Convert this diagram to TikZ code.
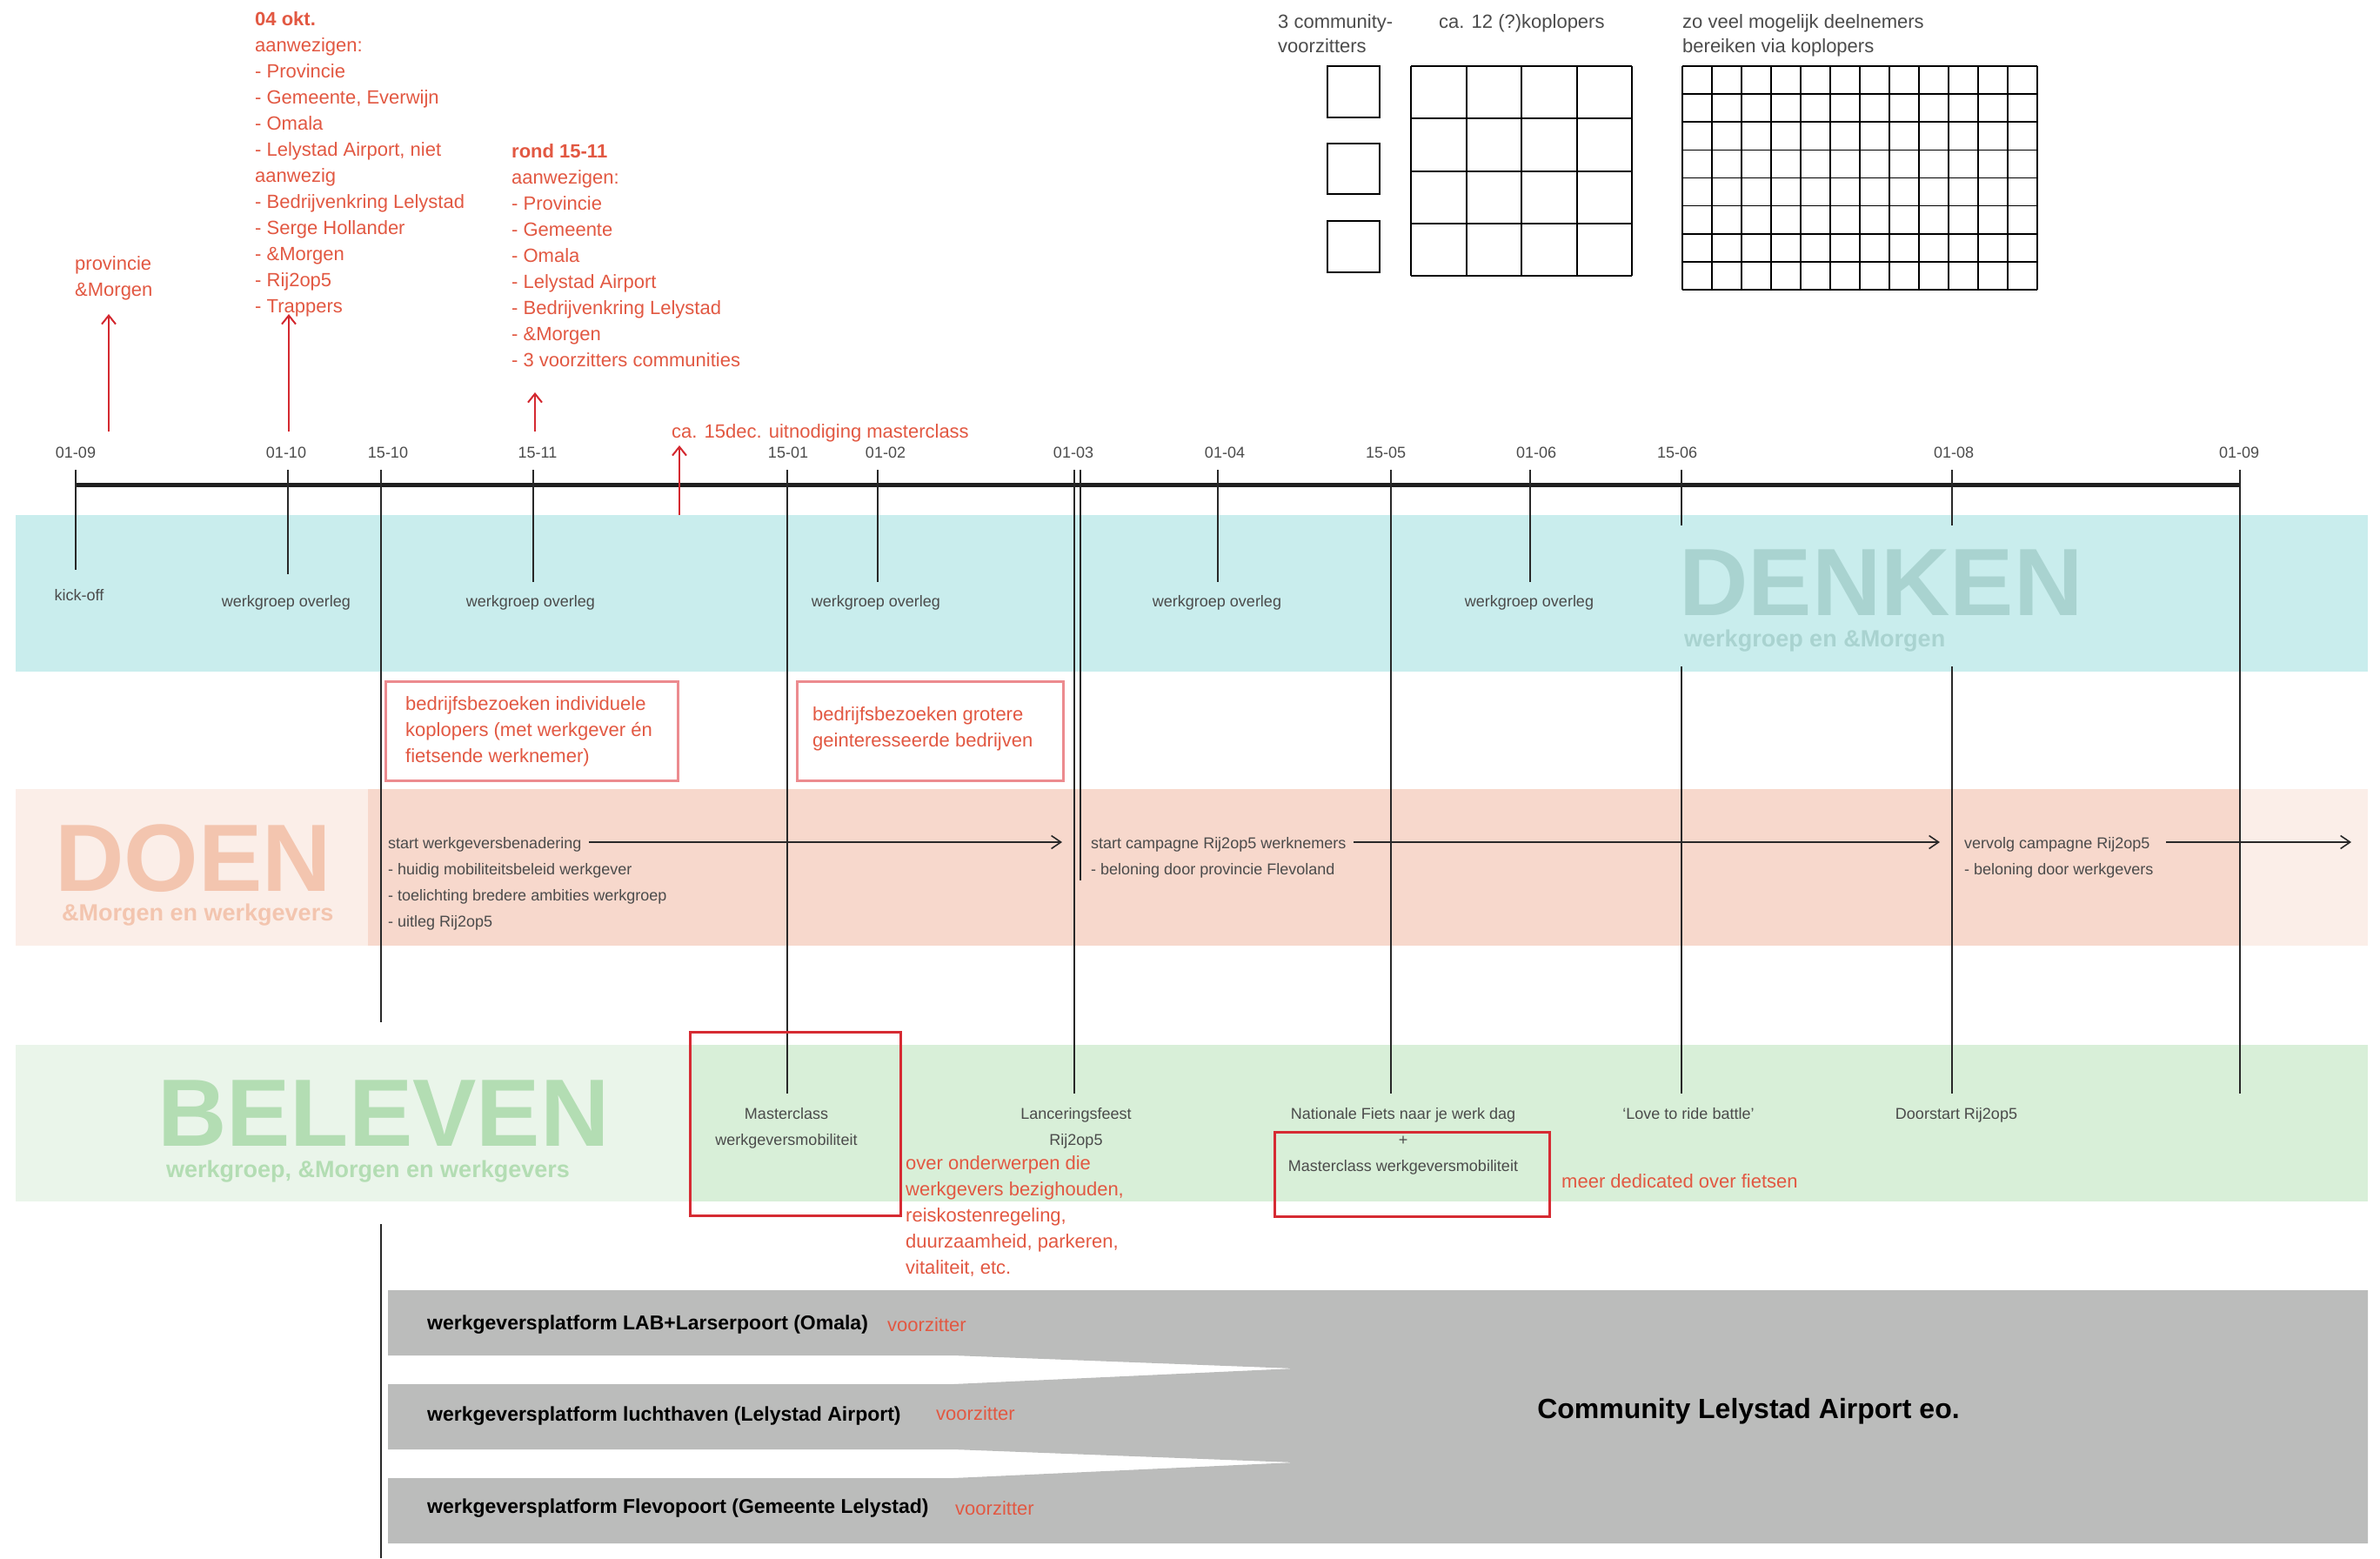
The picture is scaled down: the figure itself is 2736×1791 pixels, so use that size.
\documentclass[tikz,border=0pt]{standalone}
\usepackage{fontspec}
\setmainfont{Liberation Sans}
\usetikzlibrary{arrows.meta}
\definecolor{redtxt}{RGB}{226,88,66}
\definecolor{redarr}{RGB}{212,42,49}
\definecolor{pinkbox}{RGB}{236,139,143}
\definecolor{mcred}{RGB}{214,43,51}
\definecolor{graytxt}{RGB}{75,75,75}
\definecolor{tickcol}{RGB}{40,40,40}
\definecolor{denkenbg}{RGB}{201,237,237}
\definecolor{denkentxt}{RGB}{169,211,208}
\definecolor{doenlight}{RGB}{251,238,232}
\definecolor{doendark}{RGB}{247,216,204}
\definecolor{doentxt}{RGB}{243,197,175}
\definecolor{belevenlight}{RGB}{234,245,234}
\definecolor{belevendark}{RGB}{216,239,216}
\definecolor{beleventxt}{RGB}{179,221,179}
\definecolor{platgray}{RGB}{187,188,187}
\tikzset{
  gt/.style={font=\fontsize{18}{30}\selectfont, text=graytxt, inner sep=0pt},
  gtl/.style={font=\fontsize{22}{28}\selectfont, text=graytxt, inner sep=0pt, align=left},
  rt/.style={font=\fontsize{22}{30}\selectfont, text=redtxt, inner sep=0pt, align=left},
  pt/.style={font=\fontsize{23}{30}\selectfont\bfseries, text=black, inner sep=0pt},
  bigtxt/.style={font=\fontsize{110}{110}\selectfont\bfseries, inner sep=0pt},
  subtxt/.style={font=\fontsize{27}{30}\selectfont\bfseries, inner sep=0pt},
  tickline/.style={line width=2pt, draw=tickcol},
  redarrow/.style={line width=2pt, draw=redarr, -{Straight Barb[length=10pt,width=16pt,line width=2pt]}},
  doenarrow/.style={line width=1.6pt, draw=tickcol, -{Straight Barb[length=11pt,width=15pt,line width=1.6pt]}},
  pinkframe/.style={draw=pinkbox, line width=2.5pt, inner sep=0pt, anchor=north west},
  mcframe/.style={draw=mcred, line width=3pt, inner sep=0pt, anchor=north west},
  gridline/.style={line width=2pt, draw=black}
}
\begin{document}
\begin{tikzpicture}[x=1pt,y=-1pt]
\useasboundingbox[fill=white] (0,0) rectangle (2736,1791);

% ---------- bands ----------
\fill[denkenbg] (18,592) rectangle (2722,772);
\fill[doenlight] (18,907) rectangle (2722,1087);
\fill[doendark] (423,907) rectangle (2575,1087);
\fill[belevenlight] (18,1201) rectangle (792,1381);
\fill[belevendark] (792,1201) rectangle (2722,1381);

% ---------- platforms ----------
\fill[platgray] (446,1483) -- (2722,1483) -- (2722,1774) -- (446,1774) -- (446,1699)
  -- (1096,1699) -- (1488,1681) -- (1096,1666) -- (446,1666) -- (446,1591)
  -- (1096,1591) -- (1488,1573) -- (1096,1558) -- (446,1558) -- cycle;

% ---------- big labels ----------
\node[bigtxt, text=denkentxt, anchor=base west] (denken) at (1930,707) {DENKEN};
\node[subtxt, text=denkentxt, anchor=base west] (denkensub) at (1936,743) {werkgroep en \&Morgen};
\node[bigtxt, text=doentxt, anchor=base west] (doen) at (63,1024) {DOEN};
\node[subtxt, text=doentxt, anchor=base west] (doensub) at (71,1058) {\&Morgen en werkgevers};
\node[bigtxt, text=beleventxt, anchor=base west] (beleven) at (181,1317) {BELEVEN};
\node[subtxt, text=beleventxt, anchor=base west] (belevensub) at (191,1353) {werkgroep, \&Morgen en werkgevers};

% ---------- timeline ----------
\coordinate (tlstart) at (87,557);
\coordinate (tlend) at (2575,557);
\draw[line width=5pt, draw=black!88] (tlstart) -- (tlend);

\foreach \n/\x/\yb in {ta/87/655, tb/331/660, tc/437.5/1175, td/612.5/669, te/904.5/1257,
  tf/1009/669, tg/1235/1257, th/1242/1012, ti/1400/669, tj/1598.5/1257, tk/1759/669,
  tl/1933/604, tm/2244/604, tn/2575/1257}{
  \coordinate (\n top) at (\x,540);
  \coordinate (\n bot) at (\x,\yb);
  \draw[tickline] (\n top) -- (\n bot);
}
\coordinate (tc2top) at (437.5,1407); \coordinate (tc2bot) at (437.5,1791);
\draw[tickline] (tc2top) -- (tc2bot);
\coordinate (tl2top) at (1933,766); \coordinate (tl2bot) at (1933,1257);
\draw[tickline] (tl2top) -- (tl2bot);
\coordinate (tm2top) at (2244,766); \coordinate (tm2bot) at (2244,1257);
\draw[tickline] (tm2top) -- (tm2bot);

% date labels
\foreach \n/\x/\t in {da/87/01-09, db/329/01-10, dc/446/15-10, dd/618/15-11, de/906/15-01,
  df/1018/01-02, dg/1234/01-03, dh/1408/01-04, di/1593/15-05, dj/1766/01-06,
  dk/1928/15-06, dl/2246/01-08, dm/2574/01-09}{
  \node[gt, anchor=base] (\n) at (\x,526) {\t};
}

% ---------- red arrows and annotations ----------
\coordinate (ra1s) at (125,496); \coordinate (ra1e) at (125,361);
\coordinate (ra2s) at (332,496); \coordinate (ra2e) at (332,361);
\coordinate (ra3s) at (615,496); \coordinate (ra3e) at (615,451);
\coordinate (ra4s) at (781,592); \coordinate (ra4e) at (781,512);
\draw[redarrow] (ra1s) -- (ra1e);
\draw[redarrow] (ra2s) -- (ra2e);
\draw[redarrow] (ra3s) -- (ra3e);
\draw[redarrow] (ra4s) -- (ra4e);

\node[rt, anchor=north west] (prov) at (86,289) {\strut provincie\\\&Morgen};
\node[rt, anchor=north west] (okt) at (293,8) {\strut\textbf{04 okt.}\\aanwezigen:\\- Provincie\\- Gemeente, Everwijn\\- Omala\\- Lelystad Airport, niet\\aanwezig\\- Bedrijvenkring Lelystad\\- Serge Hollander\\- \&Morgen\\- Rij2op5\\- Trappers};
\node[rt, anchor=north west] (rond) at (588,160) {\strut\textbf{rond 15-11}\\aanwezigen:\\- Provincie\\- Gemeente\\- Omala\\- Lelystad Airport\\- Bedrijvenkring Lelystad\\- \&Morgen\\- 3 voorzitters communities};
\node[rt, anchor=base west] (uitn) at (772,503) {ca. 15dec. uitnodiging masterclass};

% ---------- top right grids ----------
\node[gtl, anchor=north west] (lab3) at (1469,12.4) {\strut 3 community-\\voorzitters};
\node[gtl, anchor=base west] (lab12) at (1654,32) {ca. 12 (?)koplopers};
\node[gtl, anchor=north west] (labzo) at (1934,12.4) {\strut zo veel mogelijk deelnemers\\bereiken via koplopers};

\draw[gridline] (1526,76) rectangle (1586,135);
\draw[gridline] (1526,165) rectangle (1586,223);
\draw[gridline] (1526,254) rectangle (1586,313);

\foreach \i in {0,...,4}{
  \draw[gridline] ({1622+63.5*\i},76) -- ({1622+63.5*\i},317);
  \draw[gridline] (1622,{76+60.25*\i}) -- (1876,{76+60.25*\i});
}
\foreach \i in {0,...,12}{
  \draw[line width=1.6pt] ({1934+34*\i},76) -- ({1934+34*\i},333);
}
\foreach \i in {0,...,8}{
  \draw[line width=1.6pt] (1934,{76+32.125*\i}) -- (2342,{76+32.125*\i});
}

% ---------- DENKEN labels ----------
\node[gt, anchor=base] (kick) at (91,690) {kick-off};
\node[gt, anchor=base] (wo1) at (329,697) {werkgroep overleg};
\node[gt, anchor=base] (wo2) at (610,697) {werkgroep overleg};
\node[gt, anchor=base] (wo3) at (1007,697) {werkgroep overleg};
\node[gt, anchor=base] (wo4) at (1399,697) {werkgroep overleg};
\node[gt, anchor=base] (wo5) at (1758,697) {werkgroep overleg};

% ---------- bedrijfsbezoeken boxes ----------
\node[pinkframe, minimum width=336pt, minimum height=114pt] (bz1) at (442,782) {};
\node[rt, anchor=north west] (bz1t) at (466,795) {\strut bedrijfsbezoeken individuele\\koplopers (met werkgever én\\fietsende werknemer)};
\node[pinkframe, minimum width=306pt, minimum height=114pt] (bz2) at (915,782) {};
\node[rt, anchor=north west] (bz2t) at (934,807) {\strut bedrijfsbezoeken grotere\\geinteresseerde bedrijven};

% ---------- DOEN texts ----------
\node[gt, anchor=north west, align=left] (doen1) at (446,954) {\strut start werkgeversbenadering\\- huidig mobiliteitsbeleid werkgever\\- toelichting bredere ambities werkgroep\\- uitleg Rij2op5};
\node[gt, anchor=north west, align=left] (doen2) at (1254,954) {\strut start campagne Rij2op5 werknemers\\- beloning door provincie Flevoland};
\node[gt, anchor=north west, align=left] (doen3) at (2258,954) {\strut vervolg campagne Rij2op5\\- beloning door werkgevers};
\coordinate (da1s) at (677,968); \coordinate (da1e) at (1221,968);
\coordinate (da2s) at (1556,968); \coordinate (da2e) at (2230,968);
\coordinate (da3s) at (2490,968); \coordinate (da3e) at (2703,968);
\draw[doenarrow] (da1s) -- (da1e);
\draw[doenarrow] (da2s) -- (da2e);
\draw[doenarrow] (da3s) -- (da3e);

% ---------- BELEVEN texts ----------
\node[mcframe, minimum width=242pt, minimum height=211pt] (mcb1) at (792,1185) {};
\node[mcframe, minimum width=316pt, minimum height=97pt] (mcb2) at (1464,1300) {};
\node[gt, anchor=north, align=center] (mc1) at (904,1265) {\strut Masterclass\\werkgeversmobiliteit};
\node[gt, anchor=north, align=center] (lf) at (1237,1265) {\strut Lanceringsfeest\\Rij2op5};
\node[rt, anchor=north west] (over) at (1041,1323) {\strut over onderwerpen die\\werkgevers bezighouden,\\reiskostenregeling,\\duurzaamheid, parkeren,\\vitaliteit, etc.};
\node[gt, anchor=base] (nf) at (1613,1286) {Nationale Fiets naar je werk dag};
\node[gt, anchor=base] (plus) at (1613,1316) {+};
\node[gt, anchor=base] (mc2) at (1613,1346) {Masterclass werkgeversmobiliteit};
\node[rt, anchor=base west] (meer) at (1795,1365) {meer dedicated over fietsen};
\node[gt, anchor=base] (love) at (1941,1286) {‘Love to ride battle’};
\node[gt, anchor=base] (door) at (2249,1286) {Doorstart Rij2op5};

% ---------- platform texts ----------
\node[pt, anchor=base west] (p1) at (491,1528) {werkgeversplatform LAB+Larserpoort (Omala)};
\node[rt, anchor=base west] (v1) at (1020,1530) {voorzitter};
\node[pt, anchor=base west] (p2) at (491,1633) {werkgeversplatform luchthaven (Lelystad Airport)};
\node[rt, anchor=base west] (v2) at (1076,1632) {voorzitter};
\node[pt, anchor=base west] (p3) at (491,1739) {werkgeversplatform Flevopoort (Gemeente Lelystad)};
\node[rt, anchor=base west] (v3) at (1098,1741) {voorzitter};
\node[font=\fontsize{32}{36}\selectfont\bfseries, inner sep=0pt, anchor=base] (comm) at (2010,1630) {Community Lelystad Airport eo.};
\end{tikzpicture}
\end{document}
